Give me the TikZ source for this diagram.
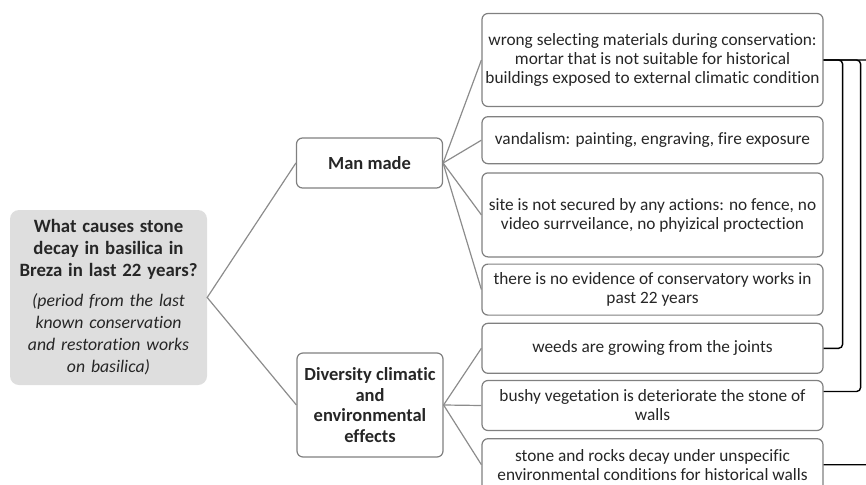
\documentclass[tikz,border=0pt]{standalone}
\usepackage{fontspec}
\setmainfont{Carlito}[Ligatures=NoCommon]
\usetikzlibrary{positioning}

\definecolor{boxgray}{HTML}{808080}
\definecolor{linegray}{HTML}{8C8C8C}
\definecolor{rootfill}{HTML}{DEDEDE}
\definecolor{textdark}{HTML}{262626}

\tikzset{
  causebox/.style={draw=boxgray, line width=1.2pt, rounded corners=6pt, align=center,
    text=textdark, fill=white, inner xsep=1pt, inner ysep=2pt,
    font=\fontsize{17.3}{19}\selectfont, minimum width=341pt},
  groupbox/.style={draw=boxgray, line width=1.2pt, rounded corners=6pt, align=center,
    text=textdark, fill=white, font=\fontsize{18.5}{20.5}\selectfont\bfseries,
    minimum width=146pt},
  rootbox/.style={fill=rootfill, rounded corners=9pt, align=center, text=textdark,
    text width=189pt, font=\fontsize{17.7}{22}\selectfont,
    minimum width=197pt, minimum height=175pt},
  branch/.style={draw=linegray, line width=1.2pt},
  bracket/.style={draw=black, line width=1.4pt, rounded corners=4pt}
}

\begin{document}
\begin{tikzpicture}[x=1pt, y=-1pt]
        \useasboundingbox (0,0) rectangle (866,484);

        % The question
        \node[rootbox] (root) at (108.5,297.5)
            {{\fontsize{18.8}{22}\selectfont\bfseries What causes stone\\ decay in basilica in\\ Breza in last 22 years?}\\[8pt]
             {\itshape (period from the last\\ known conservation\\ and restoration works\\ on basilica)}};

        % The two groups
        \node[groupbox, minimum height=50pt]  (man) at (369.5,163) {Man made};
        \node[groupbox, minimum height=104pt] (env) at (370,405)
            {Diversity climatic\\ and\\ environmental\\ effects};

        % The causes
        \node[causebox, minimum height=93pt] (c1) at (652.5,60)
            {wrong selecting materials during conservation:\\ mortar that is not suitable for historical\\ buildings exposed to external climatic condition};
        \node[causebox, minimum height=47pt, below=9pt of c1] (c2)
            {vandalism: painting, engraving, fire exposure};
        \node[causebox, minimum height=84pt, below=8pt of c2] (c3)
            {site is not secured by any actions: no fence, no\\ video surrveilance, no phyizical proctection};
        \node[causebox, minimum height=51pt, below=6pt of c3] (c4)
            {there is no evidence of conservatory works in\\ past 22 years};
        \node[causebox, minimum height=50pt, below=7pt of c4] (c5)
            {weeds are growing from the joints};
        \node[causebox, minimum height=50pt, below=6pt of c5] (c6)
            {bushy vegetation is deteriorate the stone of\\ walls};
        \node[causebox, minimum height=52pt, below=7pt of c6] (c7)
            {stone and rocks decay under unspecific\\ environmental conditions for historical walls};

        % Branches
        \draw[branch] (man.west) -- (root.east) -- (env.west);
        \foreach \c in {c1,c2,c3,c4}
            \draw[branch] (man.east) -- (\c.west);
        \foreach \c in {c5,c6,c7}
            \draw[branch] (env.east) -- (\c.west);

        % Links on the right
        \draw[bracket] (c1.east) -- ++(19pt,0) |- (c5.east);
        \draw[bracket] (c1.east) -- ++(37pt,0) |- ([yshift=14pt]c6.east);
        \draw[bracket] (c1.east) -- ++(55pt,0) |- (c7.east);
    \end{tikzpicture}
\end{document}
